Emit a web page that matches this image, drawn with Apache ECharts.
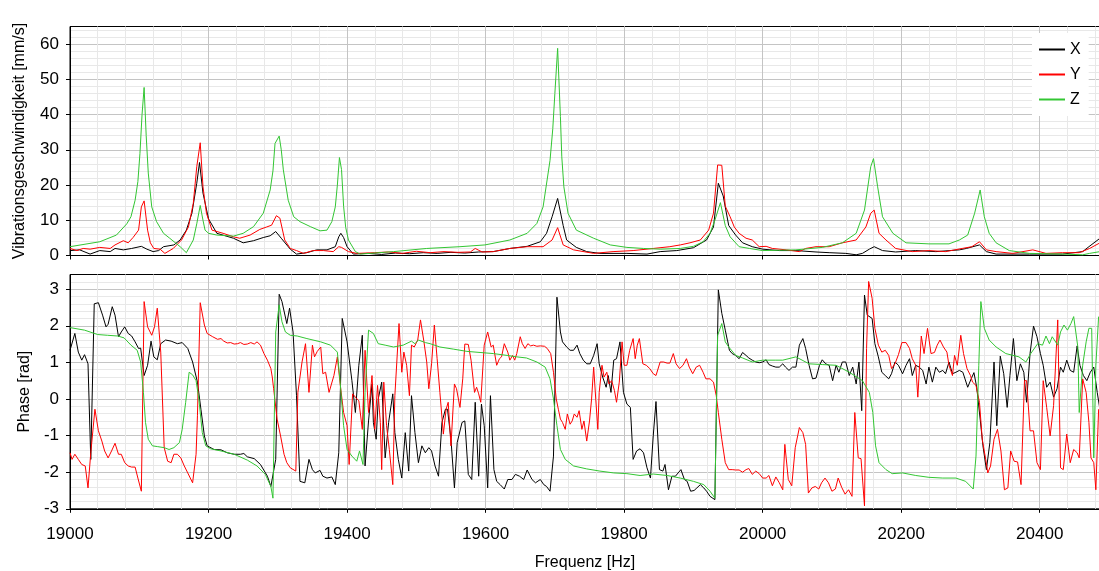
<!DOCTYPE html>
<html><head><meta charset="utf-8">
<script src="https://cdn.jsdelivr.net/npm/echarts@6.0.0/dist/echarts.min.js"></script>
<style>html,body{margin:0;padding:0;background:#fff}#chart{width:1099px;height:571px}</style>
</head><body><div id="chart"></div>
<script>
const freqMin = 19000, freqMax = 20487;
const seriesNames = ['X', 'Y', 'Z'];
const magX = [[19000,1.4],[19014,1.6],[19029,0.4],[19043,1.4],[19058,1.1],[19065,2.0],[19077,1.6],[19089,2.0],[19103,2.6],[19111,1.8],[19120,1.1],[19128,1.4],[19135,2.5],[19150,3.0],[19159,4.4],[19168,7.2],[19176,12],[19183,20.5],[19187,26.4],[19192,17.7],[19200,10.4],[19212,6.3],[19236,4.9],[19250,3.6],[19265,4.2],[19279,5.1],[19289,5.6],[19297,6.8],[19305,4.9],[19318,1.8],[19327,0.4],[19342,0.8],[19356,1.6],[19371,1.6],[19383,2.5],[19388,5.3],[19391,6.3],[19395,5.1],[19400,2.5],[19409,0.4],[19430,0.6],[19450,0.3],[19470,0.7],[19490,0.5],[19510,0.8],[19530,0.6],[19550,0.9],[19570,0.7],[19590,1.0],[19611,1.1],[19635,2.0],[19660,2.6],[19679,3.9],[19688,6.3],[19696,11],[19704,16.2],[19712,8.5],[19717,4.4],[19731,2.3],[19746,1.1],[19765,0.6],[19804,0.6],[19833,0.4],[19852,1.1],[19876,1.4],[19900,2.2],[19919,4.4],[19929,8.1],[19936,20.5],[19943,16.9],[19951,8.5],[19961,5.8],[19971,3.6],[19985,2.5],[20000,1.8],[20024,1.4],[20048,1.4],[20077,1.0],[20096,0.8],[20120,0.6],[20135,0.2],[20144,0.6],[20154,1.8],[20161,2.5],[20173,1.4],[20192,1.0],[20221,1.4],[20250,1.1],[20284,1.6],[20294,2.0],[20313,3.0],[20323,1.1],[20337,0.4],[20385,0.4],[20433,0.4],[20462,1.1],[20471,2.5],[20487,4.9]];
const magY = [[19000,2.0],[19010,1.4],[19019,2.0],[19029,1.8],[19043,2.3],[19058,2.0],[19065,3.0],[19077,4.2],[19084,3.6],[19091,5.1],[19099,7.2],[19103,13.8],[19107,15.5],[19112,7.2],[19116,3.6],[19121,2.0],[19130,1.8],[19137,0.6],[19149,2.0],[19161,4.4],[19171,8.1],[19178,14.8],[19183,25.2],[19188,32],[19192,19.5],[19197,12],[19205,7.2],[19221,6.3],[19236,5.3],[19245,4.9],[19260,5.8],[19274,7.4],[19284,8.1],[19291,8.6],[19298,11.3],[19303,10.6],[19310,4.4],[19318,2.0],[19327,1.4],[19337,0.6],[19351,1.4],[19366,1.4],[19380,1.1],[19388,2.5],[19392,2.3],[19402,1.1],[19414,0.6],[19440,0.8],[19460,1.0],[19480,0.6],[19500,1.2],[19520,0.8],[19540,1.1],[19560,0.9],[19578,1.0],[19585,2.0],[19595,1.0],[19611,1.1],[19635,2.0],[19660,2.5],[19683,2.5],[19696,4.4],[19704,7.9],[19712,3.0],[19727,1.6],[19756,0.6],[19784,1.1],[19813,1.4],[19842,2.0],[19866,2.5],[19881,3.0],[19895,3.6],[19910,4.4],[19922,7.2],[19929,12],[19935,25.7],[19941,25.6],[19946,14],[19953,11],[19959,8.1],[19966,6.3],[19976,4.9],[19985,4.4],[19995,2.5],[20005,2.6],[20014,2.0],[20034,1.6],[20053,1.1],[20062,2.0],[20077,2.5],[20096,2.5],[20115,3.6],[20135,4.4],[20149,8.1],[20156,12],[20161,12.9],[20168,6.3],[20178,4.4],[20192,2.0],[20216,1.1],[20240,1.4],[20264,1.1],[20288,2.0],[20302,2.5],[20313,3.9],[20323,1.6],[20337,1.1],[20361,0.6],[20390,1.6],[20409,0.6],[20433,0.8],[20457,0.8],[20472,2.0],[20487,3.6]];
const magZ = [[19000,2.5],[19043,3.9],[19067,5.8],[19082,9],[19088,11],[19094,15.7],[19098,21],[19101,29],[19104,40],[19107,47.7],[19110,34],[19113,23.4],[19118,13.8],[19125,9.6],[19135,6.3],[19144,4.9],[19159,2.5],[19168,0.8],[19178,4.4],[19183,9],[19188,14.2],[19192,10],[19195,7.2],[19200,6.3],[19212,5.8],[19236,5.5],[19250,6.3],[19265,8.2],[19279,12],[19289,18.6],[19293,24],[19296,31.8],[19302,33.9],[19305,30],[19308,24.3],[19315,15.7],[19323,11],[19332,9.6],[19347,8.2],[19361,7.0],[19371,7.2],[19378,9.6],[19383,13.8],[19386,20],[19389,27.8],[19392,24.4],[19395,14],[19398,8],[19402,4.4],[19412,1.1],[19419,0.4],[19467,1.1],[19515,2.0],[19563,2.5],[19599,3.0],[19635,4.4],[19660,6.3],[19674,9.1],[19683,13.8],[19693,27],[19697,36],[19700,46],[19704,58.8],[19708,39.4],[19710,28],[19713,19.5],[19719,12],[19731,7.2],[19756,4.9],[19780,3.0],[19804,2.3],[19828,2.0],[19852,1.8],[19881,2.0],[19900,2.6],[19914,3.9],[19924,6.3],[19931,10],[19939,15],[19946,8.5],[19953,5.3],[19966,2.5],[19981,2.0],[20000,1.4],[20048,1.6],[20086,2.3],[20115,3.6],[20135,6.3],[20147,12.9],[20156,25.2],[20160,27.5],[20166,19.5],[20173,11],[20188,6.3],[20207,3.6],[20240,3.3],[20269,3.3],[20284,4.4],[20296,5.8],[20306,12],[20314,18.6],[20320,11],[20327,6.3],[20337,3.6],[20356,1.4],[20385,0.6],[20433,0.4],[20462,0.2],[20472,0.6],[20487,1.1]];
const phaseX = [[19000,1.33],[19007,1.79],[19012,1.28],[19017,1.06],[19021,1.21],[19026,0.96],[19030,-1.65],[19035,2.60],[19041,2.63],[19047,2.29],[19052,1.97],[19055,2.04],[19061,2.52],[19065,2.29],[19070,1.70],[19074,1.83],[19079,1.97],[19084,1.79],[19089,1.72],[19094,1.56],[19099,1.38],[19102,1.39],[19107,0.64],[19112,0.92],[19117,1.58],[19121,1.15],[19126,1.07],[19131,1.51],[19138,1.61],[19146,1.58],[19155,1.51],[19162,1.54],[19170,1.38],[19177,1.01],[19184,0.46],[19189,-0.28],[19194,-1.01],[19198,-1.28],[19208,-1.38],[19218,-1.39],[19227,-1.47],[19237,-1.51],[19246,-1.51],[19251,-1.49],[19256,-1.58],[19266,-1.63],[19275,-1.79],[19285,-2.11],[19290,-2.39],[19292,-2.43],[19297,-1.65],[19302,2.86],[19306,2.66],[19313,2.06],[19317,2.48],[19322,1.83],[19327,0.09],[19332,-2.25],[19339,-2.29],[19345,-1.65],[19350,-1.93],[19354,-2.02],[19361,-1.95],[19365,-2.11],[19371,-2.16],[19378,-2.13],[19383,-2.34],[19388,-1.47],[19393,2.20],[19400,1.56],[19407,0.50],[19412,-0.37],[19417,0.92],[19422,1.74],[19426,-1.83],[19431,-0.6],[19436,0.41],[19438,-0.64],[19442,-1.10],[19445,0],[19450,0.46],[19455,-1.61],[19460,-0.64],[19466,0.14],[19469,-0.92],[19474,-1.65],[19479,-2.16],[19484,-0.92],[19489,-1.97],[19493,0.09],[19498,-0.92],[19503,-1.74],[19508,-1.28],[19513,-1.47],[19518,-1.33],[19522,-1.42],[19527,-1.83],[19532,-2.11],[19537,-0.64],[19542,-0.28],[19545,-0.28],[19550,-1.10],[19555,-2.43],[19559,-1.19],[19566,-0.64],[19570,-0.60],[19575,-2.06],[19580,-2.20],[19585,-0.09],[19590,-2.11],[19594,-0.14],[19598,-0.73],[19603,-2.43],[19607,0.09],[19612,-1.93],[19616,-2.25],[19621,-2.34],[19627,-2.46],[19632,-2.20],[19638,-2.20],[19643,-2.06],[19649,-2.11],[19655,-2.20],[19660,-1.94],[19667,-2.20],[19672,-2.29],[19679,-2.20],[19684,-2.34],[19688,-2.39],[19693,-2.52],[19698,-1.56],[19703,2.78],[19708,1.83],[19711,1.56],[19717,1.42],[19722,1.33],[19727,1.33],[19732,1.47],[19736,1.24],[19741,1.06],[19746,0.96],[19751,0.96],[19756,1.19],[19761,1.51],[19764,0.96],[19769,0.60],[19774,0.32],[19777,0.64],[19781,0.18],[19785,1.06],[19789,1.10],[19794,1.56],[19799,0.18],[19804,-0.14],[19809,-0.23],[19813,-1.65],[19818,-1.42],[19823,-1.36],[19828,-1.47],[19833,-1.88],[19838,-2.16],[19842,-1.01],[19846,-0.07],[19851,-1.93],[19856,-1.97],[19859,-1.79],[19864,-2.48],[19869,-2.11],[19874,-2.11],[19878,-2.02],[19882,-1.93],[19887,-2.20],[19891,-2.25],[19896,-2.52],[19901,-2.50],[19905,-2.43],[19910,-2.34],[19915,-2.43],[19919,-2.52],[19924,-2.66],[19931,-2.75],[19936,2.98],[19941,2.34],[19946,1.88],[19952,1.33],[19956,1.24],[19961,1.19],[19966,1.10],[19971,1.27],[19976,1.19],[19980,1.12],[19985,1.06],[19990,1.01],[19995,0.99],[20000,1.01],[20005,1.07],[20009,0.94],[20014,0.90],[20019,0.87],[20024,0.87],[20029,0.96],[20033,0.87],[20038,0.78],[20043,0.87],[20048,0.87],[20053,1.47],[20058,1.65],[20062,1.38],[20067,0.92],[20072,0.55],[20077,0.57],[20082,0.92],[20086,1.07],[20091,0.96],[20096,0.92],[20101,0.50],[20106,0.92],[20110,0.73],[20115,1.01],[20120,1.01],[20125,0.64],[20130,0.87],[20135,0.41],[20139,1.01],[20143,-0.32],[20147,2.84],[20151,2.29],[20158,2.20],[20162,1.51],[20167,1.15],[20172,0.73],[20177,0.64],[20182,0.55],[20186,0.69],[20191,1.01],[20196,0.92],[20202,0.69],[20207,0.92],[20212,1.10],[20216,0.64],[20221,0.92],[20226,0.87],[20231,0.78],[20236,0.41],[20240,0.87],[20245,0.46],[20250,0.87],[20255,0.73],[20260,0.78],[20264,0.69],[20269,1.01],[20274,0.69],[20279,0.73],[20284,0.78],[20289,0.73],[20296,0.32],[20301,0.55],[20305,0.72],[20309,0.32],[20314,-0.55],[20318,-1.28],[20323,-1.93],[20328,-1.19],[20334,1.01],[20338,-0.73],[20343,1.17],[20348,0.69],[20353,-0.23],[20357,0.64],[20362,1.65],[20367,0.50],[20372,0.96],[20377,0.73],[20381,-0.09],[20386,1.24],[20391,1.99],[20396,1.70],[20401,1.24],[20405,0.92],[20410,0.32],[20415,0.46],[20420,0.05],[20425,0.28],[20430,0.87],[20434,0.73],[20439,1.06],[20444,0.78],[20449,0.73],[20454,1.45],[20458,0.92],[20463,0.64],[20468,0.50],[20473,0.73],[20478,0.87],[20483,0.18],[20487,-0.3]];
const phaseY = [[19000,-1.47],[19003,-1.65],[19007,-1.51],[19012,-1.65],[19017,-1.79],[19022,-1.83],[19026,-2.43],[19030,-1.47],[19036,-0.28],[19041,-0.87],[19046,-1.15],[19050,-1.42],[19055,-1.61],[19060,-1.42],[19065,-1.21],[19070,-1.51],[19074,-1.51],[19079,-1.74],[19084,-1.83],[19089,-1.86],[19094,-1.86],[19098,-2.16],[19103,-2.52],[19107,2.66],[19112,1.97],[19118,1.74],[19122,1.97],[19126,2.48],[19131,1.28],[19136,-1.33],[19141,-1.70],[19146,-1.74],[19150,-1.51],[19155,-1.51],[19160,-1.61],[19165,-1.83],[19170,-2.02],[19177,-2.29],[19182,-1.51],[19184,-0.46],[19188,2.63],[19194,2.02],[19198,1.79],[19206,1.70],[19213,1.63],[19218,1.65],[19222,1.58],[19227,1.53],[19232,1.54],[19237,1.50],[19242,1.51],[19246,1.54],[19251,1.49],[19256,1.50],[19261,1.54],[19266,1.50],[19270,1.56],[19275,1.47],[19280,1.24],[19285,1.06],[19290,0.83],[19292,0.60],[19294,0.28],[19299,-0.55],[19304,-1.01],[19309,-1.51],[19313,-1.74],[19318,-1.88],[19326,-1.97],[19329,0.18],[19335,1.01],[19340,1.51],[19345,0.18],[19350,1.47],[19353,1.15],[19357,1.30],[19362,1.42],[19365,0.69],[19369,0.73],[19374,0.18],[19381,0.64],[19386,1.15],[19390,0.41],[19395,-0.37],[19400,-0.73],[19403,-1.79],[19408,0.14],[19412,0.05],[19417,-0.05],[19422,-0.83],[19426,1.33],[19431,-0.37],[19436,0.64],[19440,-0.83],[19444,0.37],[19448,-0.64],[19450,-1.93],[19453,0.46],[19457,-0.73],[19461,-1.38],[19466,-2.34],[19469,0.09],[19475,2.06],[19479,0.73],[19482,1.28],[19486,0.92],[19490,0.09],[19493,1.47],[19497,1.42],[19502,1.61],[19506,2.16],[19511,1.56],[19515,1.01],[19518,0.28],[19522,0.96],[19526,2.02],[19530,1.10],[19534,0.18],[19539,-0.96],[19543,-0.28],[19546,-0.09],[19550,-1.28],[19555,0.41],[19558,0.28],[19563,-0.23],[19567,0.55],[19570,1.50],[19575,1.49],[19579,1.06],[19584,0.18],[19587,0.32],[19590,0.14],[19593,-0.09],[19598,1.47],[19603,1.83],[19608,1.42],[19611,1.47],[19616,0.92],[19620,1.10],[19623,1.15],[19627,1.51],[19632,1.28],[19635,1.06],[19639,1.19],[19642,1.06],[19645,1.24],[19650,1.70],[19653,1.51],[19657,1.38],[19661,1.51],[19665,1.45],[19669,1.47],[19674,1.44],[19679,1.45],[19685,1.44],[19689,1.38],[19694,1.24],[19698,0.73],[19702,0],[19705,-0.28],[19708,-0.55],[19711,-0.64],[19715,-0.83],[19718,-0.41],[19722,-0.69],[19725,-0.60],[19728,-0.41],[19732,-0.50],[19735,-0.32],[19739,-0.83],[19742,-0.60],[19746,-1.15],[19750,-0.60],[19753,0],[19756,0.87],[19759,0],[19762,-0.83],[19764,0.18],[19768,0.92],[19771,0.60],[19775,0.73],[19778,0.41],[19782,0.50],[19786,0.23],[19789,-0.09],[19793,0.46],[19797,1.56],[19800,0.92],[19804,0.92],[19808,1.33],[19813,1.65],[19816,1.10],[19819,1.47],[19822,1.65],[19827,0.96],[19832,0.92],[19837,0.83],[19842,0.69],[19846,0.64],[19852,1.01],[19857,1.01],[19862,0.98],[19866,0.98],[19871,1.24],[19875,0.96],[19880,0.83],[19885,0.92],[19890,1.10],[19894,0.87],[19899,0.69],[19904,0.87],[19909,0.92],[19914,0.73],[19918,0.55],[19924,0.55],[19929,0.46],[19933,0.09],[19936,-0.37],[19941,-1.10],[19946,-1.74],[19951,-1.93],[19956,-1.93],[19961,-1.94],[19966,-1.94],[19971,-2.00],[19976,-1.93],[19980,-1.90],[19985,-2.06],[19990,-1.97],[19995,-2.04],[20000,-2.16],[20005,-2.16],[20009,-2.09],[20014,-2.37],[20019,-2.13],[20024,-2.29],[20029,-2.48],[20032,-1.24],[20037,-2.20],[20042,-2.37],[20047,-1.33],[20053,-0.78],[20058,-0.92],[20062,-1.24],[20066,-2.57],[20071,-2.43],[20076,-2.39],[20081,-2.46],[20085,-2.29],[20090,-2.16],[20095,-2.29],[20100,-2.52],[20105,-2.46],[20109,-2.16],[20114,-2.41],[20119,-2.60],[20124,-2.48],[20129,-2.66],[20133,-0.37],[20138,-1.61],[20142,-1.63],[20147,-2.92],[20150,1.38],[20153,3.21],[20158,2.75],[20162,1.93],[20167,1.47],[20172,1.28],[20177,1.33],[20182,1.19],[20186,0.83],[20191,0.96],[20196,1.21],[20201,1.54],[20207,1.54],[20212,1.38],[20216,1.10],[20221,0.92],[20224,0.05],[20229,1.72],[20233,1.24],[20238,1.93],[20243,1.24],[20248,1.27],[20252,1.47],[20256,1.61],[20261,1.42],[20266,1.28],[20269,0.92],[20274,0.64],[20277,1.19],[20281,0.92],[20286,1.74],[20290,1.24],[20295,0.83],[20300,0.64],[20303,0.46],[20308,0.37],[20313,-0.09],[20317,-1.10],[20322,-1.65],[20325,-2.02],[20329,-1.83],[20334,-1.10],[20339,-0.83],[20344,-1.42],[20349,-2.48],[20354,-2.43],[20358,-1.42],[20363,-1.70],[20368,-1.72],[20373,-2.34],[20378,0.50],[20381,0.50],[20386,-0.87],[20391,-0.87],[20396,-1.74],[20401,-1.93],[20405,0.50],[20410,-0.23],[20415,-1.01],[20420,-0.18],[20426,2.16],[20430,-1.88],[20434,-1.93],[20439,-0.96],[20444,-1.74],[20449,-1.38],[20454,-1.47],[20457,-1.61],[20462,0.55],[20467,0.18],[20471,-0.64],[20474,-1.61],[20478,-1.74],[20481,-2.48],[20485,-0.28]];
const phaseZ = [[19000,1.95],[19021,1.88],[19040,1.76],[19054,1.74],[19069,1.72],[19078,1.67],[19088,1.47],[19097,1.33],[19102,1.01],[19106,0.18],[19109,-0.64],[19113,-1.10],[19119,-1.28],[19126,-1.30],[19136,-1.33],[19143,-1.38],[19150,-1.33],[19158,-1.19],[19162,-0.83],[19167,-0.09],[19172,0.73],[19177,0.66],[19182,0.50],[19186,0],[19191,-0.92],[19196,-1.28],[19203,-1.36],[19218,-1.42],[19237,-1.51],[19256,-1.67],[19270,-1.83],[19282,-2.06],[19290,-2.39],[19293,-2.71],[19297,1.83],[19302,2.57],[19306,2.11],[19311,1.83],[19318,1.74],[19328,1.72],[19342,1.65],[19362,1.56],[19376,1.47],[19386,1.28],[19390,0.46],[19395,-0.73],[19400,-1.38],[19407,-1.56],[19414,-1.70],[19418,-1.42],[19423,-1.79],[19426,0.18],[19431,1.88],[19438,1.79],[19445,1.51],[19455,1.47],[19467,1.42],[19481,1.47],[19493,1.58],[19498,1.51],[19503,1.61],[19513,1.54],[19520,1.51],[19534,1.42],[19554,1.36],[19573,1.30],[19592,1.27],[19611,1.24],[19631,1.19],[19645,1.15],[19659,1.12],[19674,1.01],[19686,0.87],[19693,0.55],[19698,0],[19703,-0.73],[19708,-1.38],[19715,-1.65],[19727,-1.83],[19746,-1.91],[19765,-1.97],[19785,-2.02],[19804,-2.04],[19823,-2.09],[19842,-2.05],[19862,-2.09],[19881,-2.16],[19900,-2.25],[19915,-2.34],[19924,-2.52],[19931,-2.71],[19935,1.74],[19941,2.06],[19946,1.56],[19951,1.42],[19961,1.19],[19971,1.12],[19985,1.01],[20000,1.06],[20019,1.06],[20029,1.06],[20048,1.15],[20067,0.96],[20086,0.94],[20106,0.92],[20125,0.73],[20144,0.50],[20154,0.18],[20159,-0.37],[20163,-1.28],[20168,-1.74],[20178,-1.93],[20187,-2.04],[20202,-2.02],[20221,-2.09],[20240,-2.14],[20260,-2.16],[20279,-2.16],[20293,-2.25],[20304,-2.46],[20308,-1.56],[20312,0.92],[20315,2.66],[20320,1.93],[20327,1.61],[20337,1.42],[20351,1.24],[20370,1.15],[20380,1.01],[20387,1.24],[20397,1.51],[20404,1.47],[20409,1.72],[20414,1.51],[20418,1.70],[20426,1.47],[20430,1.83],[20435,2.02],[20440,1.88],[20445,2.06],[20449,2.25],[20455,1.42],[20457,-0.37],[20462,0.92],[20467,1.56],[20471,1.93],[20475,1.93],[20478,-1.61],[20481,0.92],[20485,2.25]];

const FONT = '"Liberation Sans", Arial, Helvetica, sans-serif';
const MAJOR = '#c4c4c4', MINOR = '#e8e8e8';
const colors = ['#000000', '#ff0000', '#33c633'];

function minorX(gi) {
  return {type: 'value', gridIndex: gi, position: 'bottom', min: freqMin, max: freqMax, interval: 40,
    axisLine: {show: false}, axisTick: {show: false}, axisLabel: {show: false},
    splitLine: {show: true, showMinLine: false, showMaxLine: false, lineStyle: {color: MINOR, width: 1}}};
}
function majorX(gi, withLabels) {
  return {type: 'value', gridIndex: gi, position: 'bottom', min: freqMin, max: freqMax, interval: 200,
    name: withLabels ? 'Frequenz [Hz]' : '', nameLocation: 'middle', nameGap: 46,
    nameTextStyle: {fontFamily: FONT, fontSize: 16, color: '#000'},
    axisLine: {show: true, onZero: false, lineStyle: {color: '#000', width: 1}},
    axisTick: {show: true, inside: false, length: 4, lineStyle: {color: '#000'}},
    axisLabel: {show: withLabels, showMaxLabel: false, margin: 17, fontFamily: FONT, fontSize: 17, color: '#000', formatter: (v) => String(v)},
    splitLine: {show: true, showMinLine: false, showMaxLine: false, lineStyle: {color: MAJOR, width: 1}}};
}
function minorY(gi, min, max, step) {
  return {type: 'value', gridIndex: gi, position: 'left', min: min, max: max, interval: step,
    axisLine: {show: false}, axisTick: {show: false}, axisLabel: {show: false},
    splitLine: {show: true, showMinLine: false, showMaxLine: false, lineStyle: {color: MINOR, width: 1}}};
}
function majorY(gi, min, max, step, name, gap) {
  return {type: 'value', gridIndex: gi, position: 'left', offset: 0, min: min, max: max, interval: step,
    name: name, nameLocation: 'middle', nameGap: gap,
    nameTextStyle: {fontFamily: FONT, fontSize: 16, color: '#000'},
    axisLine: {show: true, onZero: false, lineStyle: {color: '#000', width: 1}},
    axisTick: {show: true, inside: false, length: 4, lineStyle: {color: '#000'}},
    axisLabel: {showMaxLabel: false, margin: 11, fontFamily: FONT, fontSize: 17, color: '#000'},
    splitLine: {show: true, showMinLine: false, showMaxLine: false, lineStyle: {color: MAJOR, width: 1}}};
}
function line(name, data, xi, yi, color) {
  return {name: name, type: 'line', xAxisIndex: xi, yAxisIndex: yi, data: data,
    symbol: 'none', showSymbol: false, smooth: false, clip: true,
    lineStyle: {color: color, width: 1}, itemStyle: {color: color}};
}

const chart = echarts.init(document.getElementById('chart'), null, {renderer: 'canvas'});
chart.setOption({
  animation: false,
  backgroundColor: '#fff',
  grid: [
    {left: 70, top: 26.5, width: 1030, height: 229, show: true, borderColor: '#000', borderWidth: 1, backgroundColor: '#fff', outerBoundsMode: 'none', containLabel: false},
    {left: 70, top: 274.5, width: 1030, height: 234.3, show: true, borderColor: '#000', borderWidth: 1, backgroundColor: '#fff', outerBoundsMode: 'none', containLabel: false}
  ],
  xAxis: [minorX(0), majorX(0, false), minorX(1), majorX(1, true)],
  yAxis: [
    minorY(0, 0, 65, 2),
    majorY(0, 0, 65, 10, 'Vibrationsgeschwindigkeit [mm/s]', 42),
    minorY(1, -3, 3.4, 0.2),
    majorY(1, -3, 3.4, 1, 'Phase [rad]', 36)
  ],
  legend: {
    data: seriesNames.map((n, i) => ({name: n, itemStyle: {color: colors[i], borderWidth: 0}})),
    orient: 'vertical', left: 1032, top: 33,
    backgroundColor: '#fff', padding: [8, 8, 8, 7],
    icon: 'rect', itemWidth: 26, itemHeight: 2, itemGap: 8,
    textStyle: {fontFamily: FONT, fontSize: 16, lineHeight: 17, color: '#000', padding: [0, 0, 0, 0]}
  },
  series: [
    line(seriesNames[0], magX, 1, 1, colors[0]),
    line(seriesNames[1], magY, 1, 1, colors[1]),
    line(seriesNames[2], magZ, 1, 1, colors[2]),
    line(seriesNames[0], phaseX, 3, 3, colors[0]),
    line(seriesNames[1], phaseY, 3, 3, colors[1]),
    line(seriesNames[2], phaseZ, 3, 3, colors[2])
  ]
});
</script>
</body></html>
